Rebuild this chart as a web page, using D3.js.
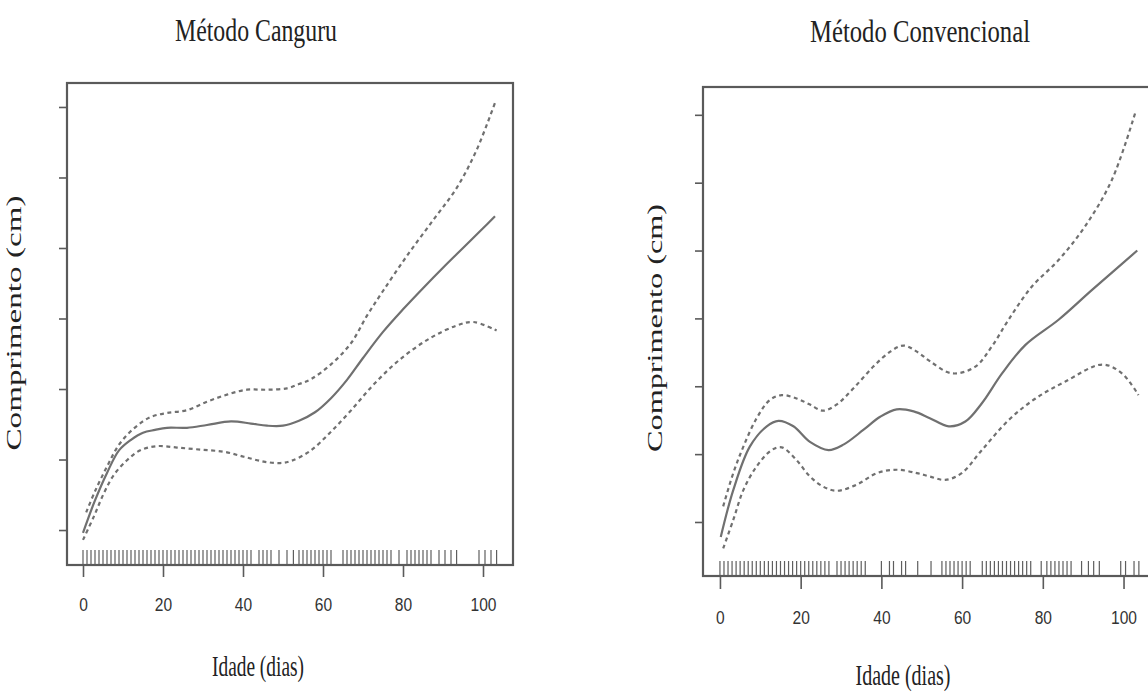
<!DOCTYPE html>
<html><head><meta charset="utf-8">
<script src="https://cdn.jsdelivr.net/npm/d3@7"></script>
<style>body{margin:0;background:#fff}svg{display:block}</style></head>
<body><svg id="c" width="1148" height="695"></svg>
<script>
// ---------- data ----------
const xTicks = [0, 20, 40, 60, 80, 100];
const yTicks = [0, 1, 2, 3, 4, 5, 6];
const titles = ["Método Canguru", "Método Convencional"];
const xLabel = "Idade (dias)";
const yLabel = "Comprimento (cm)";

// [day, value] — value in y-tick units
const canguruFit = [[0,-0.04],[3,0.42],[6,0.81],[9,1.13],[12,1.28],[15,1.38],[18,1.42],[21,1.45],[26,1.45],[31,1.49],[37,1.54],[42,1.51],[46,1.48],[50,1.48],[54,1.55],[58,1.67],[62,1.87],[66,2.13],[70,2.44],[75,2.81],[80,3.13],[85,3.43],[90,3.72],[95,4.00],[100,4.28],[103,4.45]];
const canguruUpper = [[0.8,0.25],[3,0.55],[6,0.90],[9,1.21],[12.7,1.44],[16.8,1.60],[21,1.66],[26,1.70],[31,1.82],[36,1.92],[41,1.99],[46,1.99],[51,2.01],[54,2.07],[57,2.14],[62,2.35],[67,2.65],[71,3.04],[75,3.39],[81,3.89],[87.6,4.40],[93.4,4.85],[98.4,5.39],[103,6.06]];
const canguruLower = [[0,-0.14],[2.7,0.19],[5.2,0.52],[7.7,0.78],[11,0.99],[14.3,1.13],[18.5,1.19],[23.5,1.17],[29.3,1.14],[35.2,1.11],[40.2,1.04],[45.2,0.97],[49.3,0.95],[52,0.98],[56.75,1.12],[61.75,1.38],[66.75,1.68],[72.6,2.06],[79.25,2.42],[86.75,2.72],[93.4,2.90],[97.6,2.95],[103.4,2.83]];
const canguruRug = [0,1,2,3,4,5,6,7,8,9,10,11,12,13,14,15,16,17,18,19,20,21,22,23,24,25,26,27,28,29,30,31,32,33,34,35,36,37,38,39,40,41,42,44,45,46,47,49,51,52.6,54,55,56,57,58,59,60,61,62,65,66,67,68,69,70,71,72,73,74,75,76,77,79,81,82,83,84,85,86,87,89,90.5,92,93.4,99,100.5,102,103.4];

const convFit = [[0.2,-0.22],[3.3,0.47],[7.4,1.11],[11.6,1.41],[14.5,1.49],[18.2,1.41],[22.3,1.18],[26.9,1.06],[30.6,1.14],[35.6,1.36],[39.7,1.55],[43.8,1.66],[48,1.63],[52,1.53],[56.7,1.41],[60.8,1.48],[64.9,1.75],[69.9,2.19],[75.7,2.61],[83.9,2.98],[92.2,3.42],[103.4,4.00]];
const convUpper = [[0.8,0.23],[3.3,0.72],[5.8,1.11],[9.1,1.53],[12.4,1.80],[15.3,1.87],[19,1.82],[22.3,1.73],[25.6,1.64],[28.9,1.73],[33.1,1.97],[38,2.29],[42.2,2.51],[45.5,2.60],[48.8,2.51],[52,2.37],[57.5,2.19],[63.3,2.29],[67.4,2.59],[71.5,2.98],[77.3,3.47],[83.9,3.86],[90.5,4.36],[97.1,5.04],[102.9,6.03]];
const convLower = [[0.8,-0.39],[3.3,0.03],[5.8,0.47],[9.1,0.82],[12.8,1.06],[15.3,1.10],[19,0.91],[22.3,0.67],[25.6,0.52],[28.9,0.46],[33.9,0.55],[38.9,0.72],[43.8,0.77],[48.8,0.72],[52,0.67],[55.8,0.62],[59.9,0.72],[64.9,1.06],[71.5,1.50],[78.2,1.82],[85.6,2.07],[94.7,2.32],[99.6,2.19],[103.7,1.87]];
const convRug = [0,1,2,3,4,5,6,7,8,9,10,11,12,13,14,15,16,17,18,19,20,21,22,23,24,25,26,27,29,30,31,32,33,34,35,36,40,42,43,45,46,49,52.3,55,56,57,58,59,60,61,62,65,66,67,68,69,70,71,72,73,74,75,76,77,79.6,81,82,83,84,85,86,87,89.6,91.3,92.6,94,99.3,100.5,102.6,103.8];

// ---------- layout ----------
const panels = [
  {title: titles[0], fit: canguruFit, upper: canguruUpper, lower: canguruLower, rug: canguruRug,
   x0: 67, x1: 513, y0: 83, y1: 565, xd: [-4, 107.5], yd: [-0.496, 6.34],
   tickLen: 12, tickLabelY: 611, titleX: 256, titleY: 41, titleW: 162,
   xlabX: 258, xlabY: 676, xlabW: 92, ylabX: 21, ylabY: 323, ylabW: 255, rugLen: 14},
  {title: titles[1], fit: convFit, upper: convUpper, lower: convLower, rug: convRug,
   x0: 703, x1: 1153, y0: 87, y1: 576, xd: [-4.2, 107.3], yd: [-0.796, 6.41],
   tickLen: 13, tickLabelY: 624, titleX: 920, titleY: 42, titleW: 220,
   xlabX: 903, xlabY: 685, xlabW: 95, ylabX: 662, ylabY: 328, ylabW: 248, rugLen: 14}
];

const svg = d3.select("#c");
const lineCol = "#707070";
const boxCol = "#5a5a5a";

panels.forEach(p => {
  const x = d3.scaleLinear().domain(p.xd).range([p.x0, p.x1]);
  const y = d3.scaleLinear().domain(p.yd).range([p.y1, p.y0]);
  const g = svg.append("g");

  // box
  g.append("rect").attr("x", p.x0).attr("y", p.y0)
    .attr("width", p.x1 - p.x0).attr("height", p.y1 - p.y0)
    .attr("fill", "none").attr("stroke", boxCol).attr("stroke-width", 2.2);

  // x axis
  const xa = d3.axisBottom(x).tickValues(xTicks).tickSize(p.tickLen).tickPadding(8);
  const gx = g.append("g").attr("transform", `translate(0,${p.y1})`).call(xa);
  gx.select(".domain").remove();
  gx.selectAll(".tick line").attr("stroke", boxCol).attr("stroke-width", 1.6);
  gx.selectAll(".tick text").attr("y", null).attr("dy", null)
    .attr("transform", `translate(0,${p.tickLabelY - p.y1}) scale(0.82,1)`)
    .attr("font-family", "'Liberation Sans', Arial, sans-serif")
    .attr("font-size", 19).attr("fill", "#333");

  // y axis (ticks only, no labels)
  const ya = d3.axisLeft(y).tickValues(yTicks).tickSize(8).tickFormat("");
  const gy = g.append("g").attr("transform", `translate(${p.x0},0)`).call(ya);
  gy.select(".domain").remove();
  gy.selectAll(".tick line").attr("stroke", boxCol).attr("stroke-width", 1.6);

  // rug
  g.append("g").selectAll("line").data(p.rug).join("line")
    .attr("x1", d => x(d)).attr("x2", d => x(d))
    .attr("y1", p.y1 - 1).attr("y2", p.y1 - 1 - p.rugLen)
    .attr("stroke", "#5e5e5e").attr("stroke-width", 1.2);

  // curves
  const line = d3.line().x(d => x(d[0])).y(d => y(d[1])).curve(d3.curveCatmullRom.alpha(0.5));
  g.append("path").attr("d", line(p.fit)).attr("fill", "none")
    .attr("stroke", lineCol).attr("stroke-width", 2.2);
  [p.upper, p.lower].forEach(band => {
    g.append("path").attr("d", line(band)).attr("fill", "none")
      .attr("stroke", lineCol).attr("stroke-width", 2.2).attr("stroke-dasharray", "4,3.5");
  });

  // title
  g.append("text").attr("x", p.titleX).attr("y", p.titleY).attr("text-anchor", "middle")
    .attr("font-family", "'Liberation Serif', 'Times New Roman', serif").attr("font-size", 31)
    .attr("textLength", p.titleW).attr("lengthAdjust", "spacingAndGlyphs")
    .attr("fill", "#222").text(p.title);

  // x label
  g.append("text").attr("x", p.xlabX).attr("y", p.xlabY).attr("text-anchor", "middle")
    .attr("font-family", "'Liberation Serif', 'Times New Roman', serif").attr("font-size", 30)
    .attr("textLength", p.xlabW).attr("lengthAdjust", "spacingAndGlyphs")
    .attr("fill", "#222").text(xLabel);

  // y label (rotated, glyphs compressed horizontally)
  g.append("text")
    .attr("transform", `translate(${p.ylabX},${p.ylabY}) scale(0.7,1) rotate(-90)`)
    .attr("text-anchor", "middle")
    .attr("font-family", "'Liberation Serif', 'Times New Roman', serif").attr("font-size", 31)
    .attr("textLength", p.ylabW).attr("lengthAdjust", "spacingAndGlyphs")
    .attr("fill", "#222").text(yLabel);
});
</script>
</body></html>
